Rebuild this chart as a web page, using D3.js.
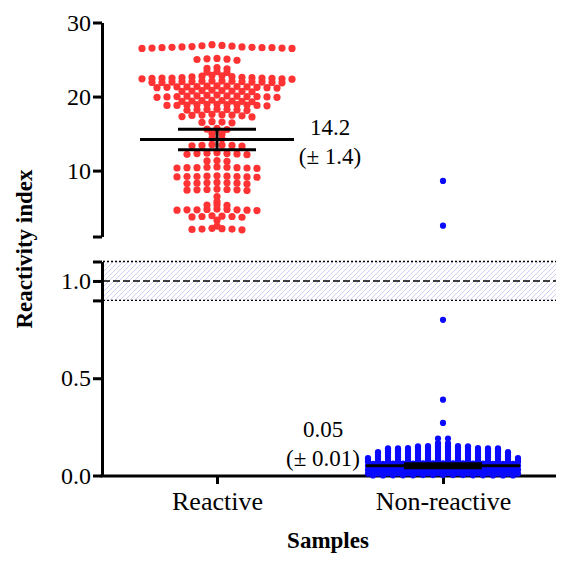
<!DOCTYPE html>
<html>
<head>
<meta charset="utf-8">
<title>Reactivity index</title>
<script src="https://d3js.org/d3.v7.min.js"></script>
<style>
  body { margin: 0; background: #fff; }
  svg text { font-family: "Liberation Serif", "Times New Roman", serif; fill: #000; }
  .axis path, .axis line { stroke: #000; stroke-width: 3; }
  .axis text { font-size: 24px; }
</style>
</head>
<body>
<svg id="chart" width="564" height="561"></svg>
<script>
// groups and summary (mean, +/- error) as printed on the chart
var categories = ["Reactive", "Non-reactive"];
var means = [14.2, 0.05];
var errors = [1.4, 0.01];
var meanLabels = ["14.2", "0.05"];
var errorLabels = ["(\u00b1 1.4)", "(\u00b1 0.01)"];

// cut-off band: lower, middle, upper
var refLines = [0.9, 1.0, 1.1];

// broken y axis: lower segment 0-1.1, upper segment 1.1-30
var lowerTicks = [0, 0.5, 0.9, 1.0, 1.1];
var lowerLabels = ["0.0", "0.5", "", "1.0", ""];
var upperTicks = [1.1, 10, 20, 30];
var upperLabels = ["", "10", "20", "30"];

// individual samples
var reactive = [
  27.0, 26.9, 26.8, 26.85, 26.75, 26.7, 26.65, 26.6, 26.6, 26.55, 26.5, 26.6, 26.55, 26.65, 26.7, 26.5,
  25.15, 25.1, 25.05, 25.0, 24.9,
  23.9, 23.8, 23.75,
  23.35, 23.3, 23.25,
  22.85, 22.8, 22.75, 22.7, 22.65, 22.6, 22.55, 22.5, 22.5, 22.45, 22.45, 22.4, 22.4, 22.35, 22.5, 22.55,
  22.1, 22.05, 22.0, 21.95, 21.9, 22.0, 22.05, 21.95, 21.9, 21.85, 22.0, 22.1, 21.95, 21.9,
  21.45, 21.4, 21.35, 21.3, 21.25, 21.2, 21.3, 21.35, 21.25, 21.4, 21.2, 21.15, 21.3,
  20.85, 20.8, 20.75, 20.7, 20.65, 20.75, 20.8, 20.7,
  20.2, 20.15, 20.1, 20.05, 20.0, 19.95, 19.9, 20.0, 20.05, 20.1, 19.95, 19.9, 20.0,
  19.5, 19.45, 19.4, 19.35, 19.3, 19.4, 19.45, 19.35,
  18.95, 18.9, 18.85, 18.8, 18.75, 18.9, 18.85, 18.8, 18.95, 18.9, 18.8,
  18.3, 18.25, 18.2, 18.15, 18.1, 18.2, 18.25,
  17.6, 17.55, 17.5, 17.45, 17.4, 17.5, 17.3, 17.25,
  16.6, 16.55, 16.5, 16.45,
  15.7, 15.6, 15.55,
  15.0, 14.95,
  14.35, 14.3,
  13.5, 13.45, 13.4, 13.35, 13.3, 13.4,
  12.4, 12.35, 12.3, 12.25, 12.2, 12.15, 12.3,
  11.35, 11.3, 11.25,
  10.5, 10.45, 10.4, 10.35, 10.3, 10.4, 10.45, 10.35, 10.4,
  9.3, 9.25, 9.2, 9.15, 9.1, 9.2, 9.25, 9.15, 9.2,
  8.4, 8.35, 8.3, 8.25, 8.2, 8.3, 8.35,
  7.5, 7.45, 7.4, 7.35, 7.3, 7.4, 7.45,
  6.5,
  5.8,
  5.4, 5.35, 5.3,
  4.8, 4.75, 4.7, 4.65, 4.6, 4.7, 4.75, 4.65, 4.7,
  3.9, 3.85, 3.8, 3.75, 3.7, 3.8,
  3.3,
  2.5,
  2.2, 2.15, 2.1, 2.05, 2.0, 2.1
];

var nonReactive = [
  8.6, 2.56, 0.8, 0.39, 0.27, 0.19, 0.19,
  0.166, 0.165,
  0.151, 0.150, 0.152, 0.151, 0.150, 0.152,
  0.141, 0.140, 0.142, 0.141, 0.140, 0.142, 0.141, 0.140, 0.142, 0.141, 0.140, 0.142,
  0.131, 0.130, 0.132, 0.131, 0.130, 0.132, 0.131, 0.130, 0.132, 0.131, 0.130, 0.132,
  0.121, 0.120, 0.122, 0.121, 0.120, 0.122, 0.121, 0.120, 0.122, 0.121, 0.120, 0.122, 0.121, 0.120,
  0.111, 0.110, 0.112, 0.111, 0.110, 0.112, 0.111, 0.110, 0.112, 0.111, 0.110, 0.112, 0.111, 0.110,
  0.101, 0.100, 0.102, 0.101, 0.100, 0.102, 0.101, 0.100, 0.102, 0.101, 0.100, 0.102, 0.101, 0.100,
  0.091, 0.090, 0.092, 0.091, 0.090, 0.092, 0.091, 0.090, 0.092, 0.091, 0.090, 0.092, 0.091, 0.090, 0.092, 0.091,
  0.081, 0.080, 0.082, 0.081, 0.080, 0.082, 0.081, 0.080, 0.082, 0.081, 0.080, 0.082, 0.081, 0.080, 0.082, 0.081,
  0.071, 0.070, 0.072, 0.071, 0.070, 0.072, 0.071, 0.070, 0.072, 0.071, 0.070, 0.072, 0.071, 0.070, 0.072, 0.071,
  0.061, 0.060, 0.062, 0.061, 0.060, 0.062, 0.061, 0.060, 0.062, 0.061, 0.060, 0.062, 0.061, 0.060, 0.062,
  0.051, 0.050, 0.052, 0.051, 0.050, 0.052, 0.051, 0.050, 0.052, 0.051, 0.050, 0.052, 0.051, 0.050, 0.052, 0.051,
  0.041, 0.040, 0.042, 0.041, 0.040, 0.042, 0.041, 0.040, 0.042, 0.041, 0.040, 0.042, 0.041, 0.040, 0.042,
  0.031, 0.030, 0.032, 0.031, 0.030, 0.032, 0.031, 0.030, 0.032, 0.031, 0.030, 0.032, 0.031, 0.030, 0.032, 0.031,
  0.021, 0.020, 0.022, 0.021, 0.020, 0.022, 0.021, 0.020, 0.022, 0.021, 0.020, 0.022, 0.021, 0.020, 0.022,
  0.011, 0.010, 0.012, 0.011, 0.010, 0.012, 0.011, 0.010, 0.012, 0.011, 0.010, 0.012, 0.011, 0.010, 0.012, 0.011,
  0.001, 0.000, 0.002, 0.001, 0.000, 0.002, 0.001, 0.000, 0.002, 0.001, 0.000, 0.002, 0.001, 0.000, 0.002
];

var colors = ["#ff3333", "#0a0aff"];
var serif = "'Liberation Serif', 'Times New Roman', serif";

var svg = d3.select("#chart");

var x = d3.scalePoint()
  .domain(categories)
  .range([104, 556])
  .padding(0.5);

var yLow = d3.scaleLinear().domain([0, 1.1]).range([475.5, 261.5]);
var yHigh = d3.scaleLinear().domain([1.1, 30]).range([236.5, 22.5]);

function y(v) { return v > 1.1 ? yHigh(v) : yLow(v); }

// hatch for the cut-off band
svg.append("defs").append("pattern")
  .attr("id", "hatch")
  .attr("patternUnits", "userSpaceOnUse")
  .attr("width", 5).attr("height", 5)
  .append("path")
  .attr("d", "M-1,1 l2,-2 M0,5 l5,-5 M4,6 l2,-2")
  .attr("stroke", "#cfcff6")
  .attr("stroke-width", 1);

var xLeft = 103, xRight = 556;

svg.append("rect")
  .attr("x", xLeft).attr("width", xRight - xLeft)
  .attr("y", y(refLines[2])).attr("height", y(refLines[0]) - y(refLines[2]))
  .attr("fill", "url(#hatch)");

svg.selectAll(".ref")
  .data(refLines)
  .enter().append("line")
  .attr("class", "ref")
  .attr("x1", xLeft).attr("x2", xRight)
  .attr("y1", function(d) { return y(d); })
  .attr("y2", function(d) { return y(d); })
  .attr("stroke", "#000")
  .attr("stroke-width", function(d, i) { return i == 1 ? 1.6 : 1.3; })
  .attr("stroke-dasharray", function(d, i) { return i == 1 ? "7,3" : "2,2"; });

// y axes (two segments)
svg.append("g")
  .attr("class", "axis")
  .attr("font-family", serif)
  .attr("transform", "translate(102,0)")
  .call(d3.axisLeft(yHigh).tickValues(upperTicks).tickSize(9).tickSizeOuter(0).tickPadding(2)
    .tickFormat(function(d, i) { return upperLabels[i]; }));

svg.append("g")
  .attr("class", "axis")
  .attr("font-family", serif)
  .attr("transform", "translate(102,0)")
  .call(d3.axisLeft(yLow).tickValues(lowerTicks).tickSize(9).tickSizeOuter(0).tickPadding(2)
    .tickFormat(function(d, i) { return lowerLabels[i]; }));

// x axis
var xAxis = svg.append("g")
  .attr("class", "axis")
  .attr("font-family", serif)
  .attr("transform", "translate(0,476)")
  .call(d3.axisBottom(x).tickSize(8).tickSizeOuter(0));
xAxis.select(".domain").remove();
xAxis.append("line")
  .attr("x1", 100.5).attr("x2", xRight)
  .attr("stroke", "#000").attr("stroke-width", 3);
xAxis.selectAll("text")
  .attr("y", 34).attr("dy", 0)
  .style("font-size", "26px");

// Prism-like row layout: sorted points separated by less than gap px share
// a row, spread sideways by step px, highest values in the middle
function rows(values, cx, gap, step) {
  var pts = values.map(function(v) { return { v: v, y: y(v) }; })
    .sort(function(a, b) { return a.y - b.y; });
  var list = [], cur = null, last = -1e9;
  pts.forEach(function(p) {
    if (!cur || p.y - last > gap) { cur = []; list.push(cur); }
    cur.push(p);
    last = p.y;
  });
  list.forEach(function(r) {
    var n = r.length;
    var slots = d3.range(n).map(function(i) { return (i - (n - 1) / 2) * step; })
      .sort(function(a, b) { return Math.abs(a) - Math.abs(b) || a - b; });
    r.forEach(function(p, i) { p.x = cx + slots[i]; });
  });
  return pts;
}

var layouts = [
  rows(reactive, x(categories[0]), 1.2, 10),
  rows(nonReactive, x(categories[1]), 1.0, 10)
];
var radius = [3.6, 3.1];

layouts.forEach(function(pts, gi) {
  svg.append("g").selectAll("circle")
    .data(pts)
    .enter().append("circle")
    .attr("cx", function(d) { return d.x; })
    .attr("cy", function(d) { return d.y; })
    .attr("r", radius[gi])
    .attr("fill", colors[gi]);
});

// mean and error bars
var labelDx = [113, -120];
var labelDy = [-4.5, -29];

categories.forEach(function(c, i) {
  var cx = x(c);
  var g = svg.append("g").attr("stroke", "#000").attr("stroke-width", 3);
  g.append("line")
    .attr("x1", cx - 77).attr("x2", cx + 77)
    .attr("y1", y(means[i])).attr("y2", y(means[i]));
  [means[i] + errors[i], means[i] - errors[i]].forEach(function(v) {
    g.append("line")
      .attr("x1", cx - 39).attr("x2", cx + 39)
      .attr("y1", y(v)).attr("y2", y(v));
  });
  g.append("line")
    .attr("x1", cx).attr("x2", cx)
    .attr("y1", y(means[i] + errors[i])).attr("y2", y(means[i] - errors[i]));

  var t = svg.append("text")
    .attr("text-anchor", "middle")
    .style("font-size", "23px")
    .attr("x", cx + labelDx[i])
    .attr("y", y(means[i]) + labelDy[i]);
  t.append("tspan").attr("x", cx + labelDx[i]).text(meanLabels[i]);
  t.append("tspan").attr("x", cx + labelDx[i]).attr("dy", 29).text(errorLabels[i]);
});

// axis titles
svg.append("text")
  .attr("transform", "translate(32,249) rotate(-90)")
  .attr("text-anchor", "middle")
  .style("font-size", "23px")
  .style("font-weight", "bold")
  .text("Reactivity index");

svg.append("text")
  .attr("x", 328).attr("y", 548)
  .attr("text-anchor", "middle")
  .style("font-size", "23px")
  .style("font-weight", "bold")
  .text("Samples");
</script>
</body>
</html>
